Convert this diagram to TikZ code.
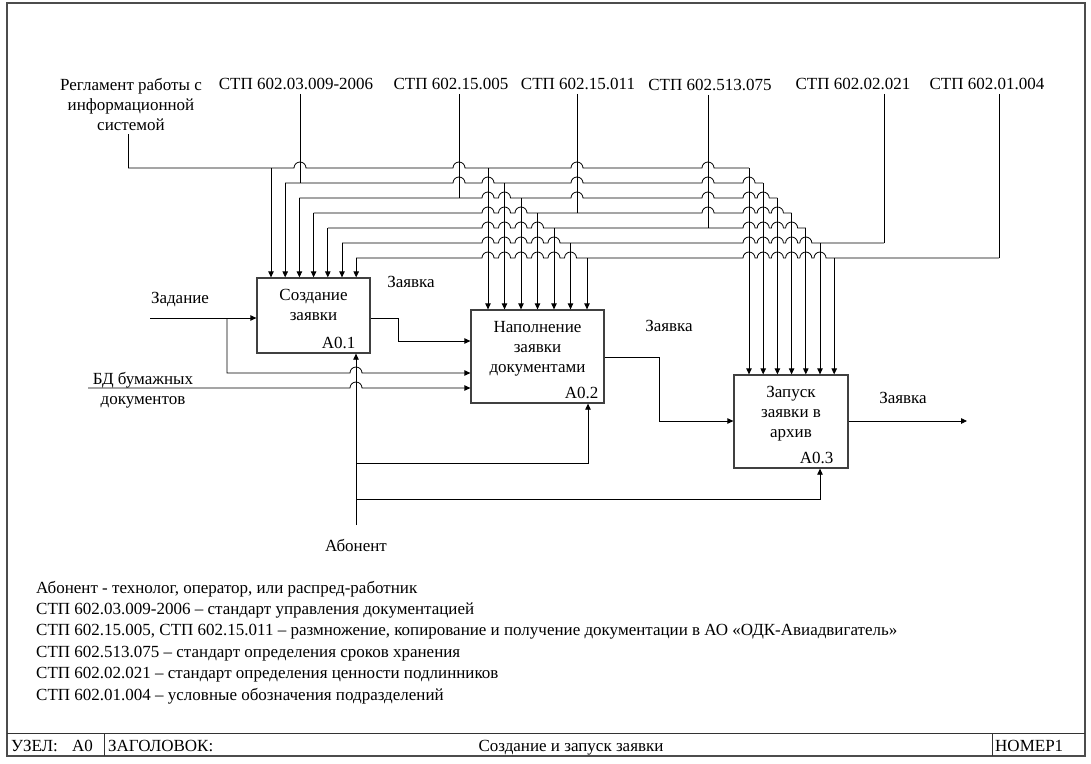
\documentclass[tikz,border=0pt]{standalone}
\usepackage{fontspec}
\setmainfont{Liberation Serif}
\usetikzlibrary{positioning, arrows.meta}

\begin{document}
\begin{tikzpicture}[x=1pt, y=-1pt, >={Triangle[length=6pt, width=5.5pt]},
    every node/.style={font=\fontsize{17}{20}\selectfont, inner sep=1pt},
    box/.style={draw=black!75, line width=1.3pt},
    wire/.style={line width=0.8pt},
    ctl/.style={inner sep=4pt, align=center}]
    \useasboundingbox (0,0) rectangle (1091,763);
    \draw[black!70, line width=1.6pt] (7,3) rectangle (1085,756);

    \node[box, minimum width=113, minimum height=75] (b1) at (313.5,315.5) {};
    \node[below=11pt of b1.north, align=center] (b1t) {Создание\\заявки};
    \node[anchor=south east, xshift=-14pt, yshift=4pt] (b1n) at (b1.south east) {А0.1};

    \node[box, minimum width=133, minimum height=93] (b2) at (537.5,356.5) {};
    \node[below=10.5pt of b2.north, align=center] (b2t) {Наполнение\\заявки\\документами};
    \node[anchor=south east, xshift=-5pt, yshift=4pt] (b2n) at (b2.south east) {А0.2};

    \node[box, minimum width=114, minimum height=93] (b3) at (791,421.5) {};
    \node[below=10.5pt of b3.north, align=center] (b3t) {Запуск\\заявки в\\архив};
    \node[anchor=south east, xshift=-14pt, yshift=4pt] (b3n) at (b3.south east) {А0.3};

    \node[ctl] (c1) at (131,104) {Регламент работы с\\информационной\\системой};
    \node[ctl] (c2) at (296,84) {СТП 602.03.009-2006};
    \node[ctl] (c3) at (451,84) {СТП 602.15.005};
    \node[ctl] (c4) at (578,84) {СТП 602.15.011};
    \node[ctl] (c5) at (710,85) {СТП 602.513.075};
    \node[ctl] (c6) at (853,84) {СТП 602.02.021};
    \node[ctl] (c7) at (987,84) {СТП 602.01.004};

    \draw[wire] (128,0 |- c1.south) -- (128,168);
    \foreach \x/\y/\n in {300/183/2, 459/198/3, 577/213/4, 708/228/5, 884/243/6, 999/258/7}
        \draw[wire] (\x,0 |- c\n.south) -- (\x,\y);

    % control rails with hops
    \foreach \y/\l/\r/\hops in {
        168/128/749/{300,459,577,708},
        183/285.2/763.2/{459,488,577,708,749},
        198/299.4/777.4/{488,504.5,577,708,749,763.2},
        213/313.6/791.6/{488,504.5,521,708,749,763.2,777.4},
        228/327.8/805.8/{488,504.5,521,537.5,749,763.2,777.4,791.6},
        243/342/884/{488,504.5,521,537.5,554,749,763.2,777.4,791.6,805.8},
        258/356.2/999/{488,504.5,521,537.5,554,570.5,749,763.2,777.4,791.6,805.8,820}}
        \draw[wire] (\l,\y) foreach \h in \hops {
            -- (\h-6,\y) arc[start angle=180, end angle=0, radius=6pt]} -- (\r,\y);

    \foreach \i [evaluate=\i as \yl using 168+15*(\i-1),
                 evaluate=\i as \xone using 271+14.2*(\i-1),
                 evaluate=\i as \xtwo using 488+16.5*(\i-1),
                 evaluate=\i as \xthree using 749+14.2*(\i-1)] in {1,...,7} {
        \draw[wire,->] (\xone,\yl) -- (\xone,\yl |- b1.north);
        \draw[wire,->] (\xtwo,\yl) -- (\xtwo,\yl |- b2.north);
        \draw[wire,->] (\xthree,\yl) -- (\xthree,\yl |- b3.north);
    }

    \node (zad) at (180,300) {Задание};
    \coordinate (zin) at (150,318);
    \draw[wire,->] (zin) -- (zin -| b1.west);
    \draw[wire,->] (227,318) -- (227,373) -- (350,373)
        arc[start angle=180, end angle=0, radius=6pt] -- (b2.west |- 0,373);

    \node[align=center] (bd) at (143,390) {БД бумажных\\документов};
    \coordinate (bdin) at (88,388);
    \draw[wire,->] (bdin) -- (350,388)
        arc[start angle=180, end angle=0, radius=6pt] -- (b2.west |- bdin);

    \draw[wire,->] (b1.east |- 0,318) -- (398,318) |- (b2.west |- 0,341);
    \node (o1) at (411,282) {Заявка};
    \draw[wire,->] (b2.east |- 0,357) -- (659,357) |- (b3.west |- 0,421);
    \node (o2) at (669,326) {Заявка};
    \coordinate (out) at (967,421);
    \draw[wire,->] (b3.east |- out) -- (out);
    \node (o3) at (903,398) {Заявка};

    \node (ab) at (356,545) {Абонент};
    \coordinate (mec) at (356,525);
    \draw[wire,->] (mec) -- (mec |- b1.south);
    \draw[wire,->] (356,463) -| (588,0 |- b2.south);
    \draw[wire,->] (356,499) -| (820,0 |- b3.south);

    \foreach \t [count=\k] in {
        {Абонент - технолог, оператор, или распред-работник},
        {СТП 602.03.009-2006 – стандарт управления документацией},
        {СТП 602.15.005, СТП 602.15.011 – размножение, копирование и получение документации в АО «ОДК-Авиадвигатель»},
        {СТП 602.513.075 – стандарт определения сроков хранения},
        {СТП 602.02.021 – стандарт определения ценности подлинников},
        {СТП 602.01.004 – условные обозначения подразделений}}
        \node[anchor=base west] (n\k) at (35,593+21.4*\k-21.4) {\t};

    \draw[black!80, line width=1pt] (7,733) -- (1085,733);
    \draw[black!80, line width=1pt] (104,733) -- (104,756) (992,733) -- (992,756);
    \node[anchor=base west] (uz) at (10,751) {УЗЕЛ:};
    \node[anchor=base west] (uzn) at (71,751) {А0};
    \node[anchor=base west] (zg) at (107,751) {ЗАГОЛОВОК:};
    \node[anchor=base] (ttl) at (571,751) {Создание и запуск заявки};
    \node[anchor=base west] (nm) at (994,751) {НОМЕР1};
\end{tikzpicture}
\end{document}
